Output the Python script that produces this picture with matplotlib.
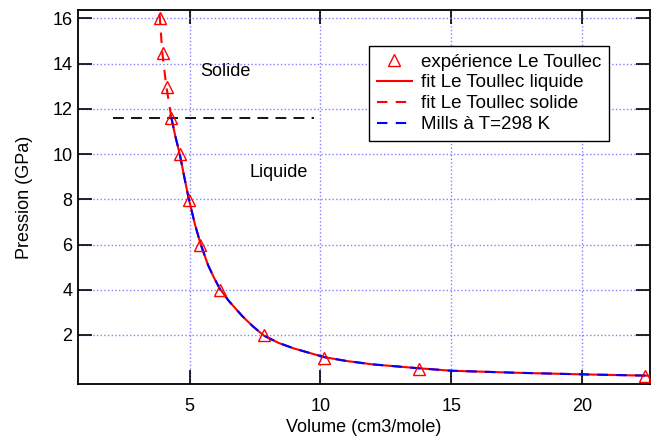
import matplotlib
matplotlib.use("Agg")
import matplotlib.pyplot as plt

plt.rcParams['font.family'] = ['Liberation Sans', 'DejaVu Sans']

# experimental points (Le Toullec)
exp_V = [3.87, 3.98, 4.13, 4.30, 4.62, 4.97, 5.41, 6.15, 7.84, 10.15, 13.75, 22.4]
exp_P = [16.0, 14.45, 12.95, 11.6, 10.0, 7.95, 6.0, 4.0, 2.0, 1.0, 0.5, 0.2]

# liquid fit curve
liq_V = [4.30, 4.45, 4.62, 4.80, 4.97, 5.20, 5.41, 5.70, 5.90, 6.15, 6.50, 7.00, 7.40, 7.84, 8.40, 9.00, 10.15, 11.0, 12.0, 13.75, 15.0, 17.5, 20.0, 22.6]
liq_P = [11.6, 10.8, 10.0, 8.95, 8.0, 6.9, 6.05, 5.1, 4.6, 4.05, 3.5, 2.85, 2.4, 1.97, 1.65, 1.40, 1.02, 0.85, 0.70, 0.53, 0.42, 0.33, 0.26, 0.20]

# solid fit curve
sol_V = [3.85, 3.95, 4.10, 4.30]
sol_P = [16.2, 14.52, 13.05, 11.6]

# Mills at T=298 K
mills_V = liq_V
mills_P = liq_P

# melting line
melt_V = [2.05, 9.77]
melt_P = [11.6, 11.6]

xticks = [5, 10, 15, 20]
yticks = [2, 4, 6, 8, 10, 12, 14, 16]

FS = 13

fig = plt.figure(figsize=(6.51, 4.38), dpi=100)
ax = fig.add_axes([78/651, (438-384.3)/438, (650-78)/651, (384.3-10)/438])

ax.plot(melt_V, melt_P, color='black', lw=1.3, ls=(0, (6, 4)))
ax.plot(exp_V, exp_P, ls='none', marker='^', mfc='none', mec='red', ms=9, mew=1.0,
        label='expérience Le Toullec', zorder=5)
ax.plot(liq_V, liq_P, color='red', lw=1.5, label='fit Le Toullec liquide', zorder=3)
ax.plot(sol_V, sol_P, color='red', lw=1.5, ls=(0, (5, 4)), label='fit Le Toullec solide', zorder=3)
ax.plot(mills_V, mills_P, color='blue', lw=1.5, ls=(0, (5, 4)), label='Mills à T=298 K', zorder=4)

ax.set_xlim(0.73, 22.6)
ax.set_ylim(-0.18, 16.37)
ax.set_xticks(xticks)
ax.set_yticks(yticks)
ax.grid(True, color='#8080ff', ls=':', lw=1.0)
ax.set_axisbelow(True)
ax.tick_params(direction='in', length=10, width=1.2, top=True, right=True,
               labelsize=FS, colors='black')
ax.tick_params(axis='y', pad=4)
ax.tick_params(axis='x', pad=10)
for s in ax.spines.values():
    s.set_linewidth(1.3)

ax.set_xlabel('Volume (cm3/mole)', fontsize=FS, labelpad=3)
ax.set_ylabel('Pression (GPa)', fontsize=FS, labelpad=14)

ax.text(5.42, 13.63, 'Solide', fontsize=FS, ha='left', va='center')
ax.text(7.29, 9.2, 'Liquide', fontsize=FS, ha='left', va='center')

leg = ax.legend(loc='upper left', bbox_to_anchor=(0.509, 0.904), borderaxespad=0,
                fontsize=13.5, frameon=True, fancybox=False, framealpha=1,
                edgecolor='black', handlelength=1.9, handletextpad=0.45,
                labelspacing=0.2, borderpad=0.4)
leg.get_frame().set_linewidth(1.0)

fig.savefig('out.png', dpi=100)
